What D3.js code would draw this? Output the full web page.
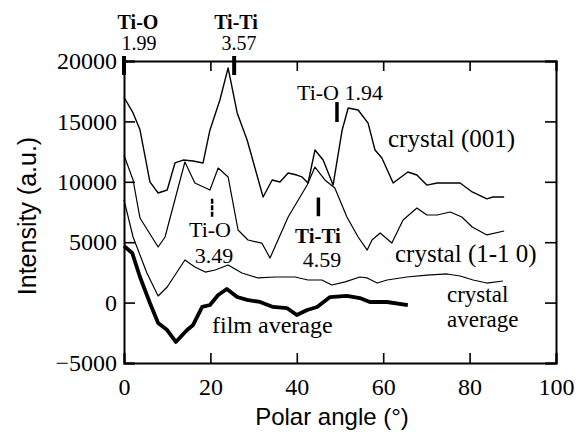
<!doctype html>
<html>
<head>
<meta charset="utf-8">
<title>Polar angle scan</title>
<script src="https://cdn.jsdelivr.net/npm/d3@7/dist/d3.min.js"></script>
<style>
  body { margin: 0; background: #fff; }
  text { fill: #000; }
</style>
</head>
<body>
<script>

// --- data ---
var angle001 = [0, 2.1, 3.7, 6, 7.9, 10, 11.8, 13.7, 16, 18.3, 19.9, 22.2, 24.1, 26.2, 28.5, 32.2, 34.3, 36.1, 38, 40, 41.2, 42.6, 44.2, 46.1, 48.4, 50.5, 51.9, 54.2, 56.5, 58.1, 59.7, 62.3, 65.7, 67.8, 70.1, 72.5, 77.8, 80.6, 84, 85.4, 88];
var int001 = [17000, 15700, 14300, 10000, 9070, 9320, 11560, 11800, 11720, 11560, 14290, 16770, 19430, 15700, 13460, 8740, 10150, 9980, 10730, 10560, 10400, 9900, 12630, 11800, 9730, 14290, 16110, 15940, 14860, 12630, 11970, 9900, 10810, 10560, 9730, 9900, 9900, 9160, 8580, 8740, 8740];

var angle110 = [0, 2.1, 3.7, 7.9, 9.5, 14.1, 16.4, 19.9, 21.8, 24.1, 26.4, 28.7, 31.9, 33.8, 38, 42.4, 44.2, 46.5, 48.8, 51.6, 54.2, 56.3, 57.4, 59.3, 62, 64.6, 67.8, 70.1, 72.5, 75.5, 78.2, 80.6, 84, 88];
var int110 = [12200, 10150, 7000, 4600, 5430, 11640, 9900, 9320, 11140, 10400, 6010, 5180, 4930, 3690, 7090, 9730, 11220, 10150, 9490, 7090, 5430, 4350, 5180, 5760, 4930, 6840, 7830, 7250, 7250, 7500, 7090, 6260, 5600, 5930];

var angleCryAvg = [0, 2.1, 5.3, 7.9, 10, 14.1, 16.4, 18.8, 21.1, 24.1, 27.3, 31, 35, 39.6, 42.6, 45.8, 48.1, 51.2, 54.6, 56.3, 58.6, 60.9, 65.5, 70.1, 74.8, 77.8, 80.8, 84, 87.7];
var intCryAvg = [8500, 5430, 2450, 550, 1290, 3530, 2950, 2530, 2700, 3110, 2450, 2040, 2120, 2120, 1870, 1870, 1460, 1710, 2120, 2040, 1620, 1870, 2120, 2280, 2370, 2200, 1870, 1620, 1790];

var angleFilm = [0, 1.9, 3.7, 6, 7.9, 10, 12, 14.6, 16, 18.1, 19.9, 21.8, 23.8, 26.2, 28.5, 31.5, 34.5, 37.7, 40, 42.4, 44.7, 47.7, 51.6, 54.6, 56.9, 60.9, 65.7];
var intFilm = [4690, 4110, 2120, -30, -1690, -2270, -3260, -2270, -1850, -360, -200, 630, 1130, 460, 220, 50, -360, -450, -1030, -610, -360, 460, 550, 380, 50, 50, -200];

var xTicks = [0, 20, 40, 60, 80, 100];
var yTicks = [-5000, 0, 5000, 10000, 15000, 20000];

// bond markers: angle, low and high intensity of the bar
var markAngle = [20.4, 45, 49.3];
var markLow = [7100, 7150, 14950];
var markHigh = [8700, 8700, 16600];
var topMarkAngle = [0, 25.5];

var width = 581, height = 432;
var svg = d3.select('body').append('svg')
  .attr('width', width).attr('height', height);

var x = d3.scaleLinear().domain([0, 100]).range([124, 556]);
var y = d3.scaleLinear().domain([-5000, 20000]).range([363, 61]);

var serif = '"Liberation Serif", "Times New Roman", serif';
var sans = '"Liberation Sans", Arial, sans-serif';

// axes with inward ticks
function minorTicks(step, lo, hi) {
  var t = [];
  for (var v = lo; v <= hi + 1e-9; v += step) t.push(v);
  return t;
}

var gx = svg.append('g').attr('transform', 'translate(0,' + y(-5000) + ')');
gx.call(d3.axisBottom(x).tickValues(minorTicks(5, 0, 100)).tickSize(-5).tickFormat(''));
gx.call(d3.axisBottom(x).tickValues(xTicks).tickSize(-10).tickPadding(15).tickFormat(d3.format('d')));
var gxt = svg.append('g').attr('transform', 'translate(0,' + y(20000) + ')');
gxt.call(d3.axisTop(x).tickValues(minorTicks(5, 0, 100)).tickSize(-5).tickFormat(''));
gxt.call(d3.axisTop(x).tickValues(xTicks).tickSize(-10).tickFormat(''));

var gy = svg.append('g').attr('transform', 'translate(' + x(0) + ',0)');
gy.call(d3.axisLeft(y).tickValues(minorTicks(1250, -5000, 20000)).tickSize(-6).tickFormat(''));
gy.call(d3.axisLeft(y).tickValues(yTicks).tickSize(-11).tickPadding(7).tickFormat(d3.format('d')));
var gyr = svg.append('g').attr('transform', 'translate(' + x(100) + ',0)');
gyr.call(d3.axisRight(y).tickValues(minorTicks(1250, -5000, 20000)).tickSize(-6).tickFormat(''));
gyr.call(d3.axisRight(y).tickValues(yTicks).tickSize(-11).tickFormat(''));

svg.selectAll('.domain').attr('stroke', '#000').attr('stroke-width', 2);
svg.selectAll('.tick line').attr('stroke', '#000').attr('stroke-width', 1.6);
svg.selectAll('.tick text').attr('font-family', serif).attr('font-size', 24).attr('fill', '#000');
gy.selectAll('.tick text').attr('dy', '0.32em');

// curves
var line = d3.line().x(function (d) { return x(d[0]); }).y(function (d) { return y(d[1]); });
var series = [
  { a: angle001, v: int001, w: 1.4 },
  { a: angle110, v: int110, w: 1.2 },
  { a: angleCryAvg, v: intCryAvg, w: 1.2 },
  { a: angleFilm, v: intFilm, w: 3.8 }
];
series.forEach(function (s) {
  svg.append('path')
    .datum(d3.zip(s.a, s.v))
    .attr('d', line)
    .attr('fill', 'none')
    .attr('stroke', '#000')
    .attr('stroke-width', s.w)
    .attr('stroke-linejoin', 'round');
});

// bond markers
svg.selectAll('.mark').data(markAngle).enter().append('line')
  .attr('x1', function (d) { return x(d); })
  .attr('x2', function (d) { return x(d); })
  .attr('y1', function (d, i) { return y(markLow[i]); })
  .attr('y2', function (d, i) { return y(markHigh[i]); })
  .attr('stroke', '#000')
  .attr('stroke-width', function (d, i) { return i === 0 ? 2.5 : 3.5; })
  .attr('stroke-dasharray', function (d, i) { return i === 0 ? '5,1.5' : null; });

svg.selectAll('.topmark').data(topMarkAngle).enter().append('line')
  .attr('x1', function (d) { return x(d); })
  .attr('x2', function (d) { return x(d); })
  .attr('y1', y(20000) - 5)
  .attr('y2', y(20000) + 14)
  .attr('stroke', '#000')
  .attr('stroke-width', 4);

// annotation texts
function label(txt, px, py, size, anchor, weight) {
  svg.append('text')
    .attr('x', px).attr('y', py)
    .attr('font-family', serif)
    .attr('font-size', size)
    .attr('font-weight', weight || 'normal')
    .attr('text-anchor', anchor || 'start')
    .text(txt);
}
label('Ti-O', 138, 29, 20, 'middle', 'bold');
label('1.99', 139, 50, 20, 'middle');
label('Ti-Ti', 236, 29, 20, 'middle', 'bold');
label('3.57', 239, 50, 20, 'middle');
label('Ti-O 1.94', 297, 100, 22);
label('Ti-O', 210, 237, 22, 'middle');
label('3.49', 214, 263, 22, 'middle');
label('Ti-Ti', 318, 243, 21, 'middle', 'bold');
label('4.59', 322, 267, 22, 'middle');
label('crystal (001)', 388, 147, 25);
label('crystal (1-1 0)', 395, 262, 25);
label('crystal', 447, 302, 23);
label('average', 447, 327, 23);
label('film average', 212, 333, 24);

// axis titles
svg.append('text')
  .attr('x', 332).attr('y', 425)
  .attr('text-anchor', 'middle')
  .attr('font-family', sans).attr('font-size', 24)
  .text('Polar angle (°)');

svg.append('text')
  .attr('transform', 'translate(36,216) rotate(-90)')
  .attr('text-anchor', 'middle')
  .attr('font-family', sans).attr('font-size', 25)
  .text('Intensity (a.u.)');

</script>
</body>
</html>
